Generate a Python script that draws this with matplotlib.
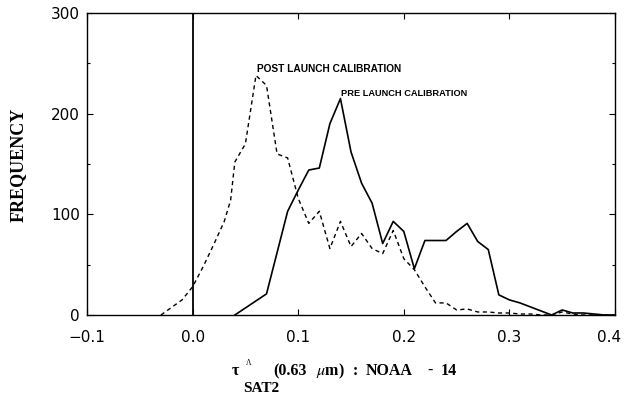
import matplotlib
matplotlib.use("Agg")
import matplotlib.pyplot as plt
import matplotlib.transforms as mtransforms
from matplotlib.ticker import MultipleLocator

# values
post_x = [-0.03, -0.01, 0.00, 0.01, 0.02, 0.03, 0.036, 0.04, 0.05, 0.06, 0.07, 0.08, 0.09,
          0.10, 0.11, 0.12, 0.13, 0.14, 0.15, 0.16, 0.17, 0.18, 0.19, 0.20, 0.21, 0.22,
          0.23, 0.24, 0.25, 0.26, 0.27, 0.28, 0.29, 0.30, 0.31, 0.32, 0.33, 0.34, 0.35,
          0.36, 0.37, 0.38, 0.39, 0.40]
post_y = [0, 15, 28, 48, 70, 93, 114, 152, 170, 238, 228, 160, 156,
          116, 91, 103, 66, 93, 68, 81, 66, 61, 84, 56, 45, 28,
          12, 12, 5, 6, 3, 3, 2, 2, 1, 1, 0, 0, 3,
          1, 0, 0, 0, 0]

pre_x = [0.04, 0.05, 0.06, 0.07, 0.08, 0.09, 0.10, 0.11, 0.12, 0.13, 0.14, 0.15, 0.16,
         0.17, 0.18, 0.19, 0.20, 0.21, 0.22, 0.23, 0.24, 0.25, 0.26, 0.27, 0.28, 0.29,
         0.30, 0.31, 0.32, 0.33, 0.34, 0.35, 0.36, 0.37, 0.38, 0.39, 0.40]
pre_y = [0, 7, 14, 21, 62, 103, 124, 144, 146, 190, 215, 162, 131,
         111, 71, 93, 83, 46, 74, 74, 74, 83, 91, 73, 65, 20,
         15, 12, 8, 4, 0, 5, 2, 2, 1, 0, 0]

x_ticks = [-0.1, 0.0, 0.1, 0.2, 0.3, 0.4]
x_tick_labels = ["\u22120.1", "0.0", "0.1", "0.2", "0.3", "0.4"]
y_ticks = [0, 100, 200, 300]

plt.rcParams['mathtext.fontset'] = 'stix'

fig = plt.figure(figsize=(6.24, 4.03), dpi=100)
ax = fig.add_axes([87 / 624, 1 - 315 / 403, 528 / 624, 302 / 403])

ax.plot(post_x, post_y, color='black', lw=1.0, linestyle=(0, (3, 2.5)))
ax.plot(pre_x, pre_y, color='black', lw=1.2)
ax.axvline(0.0, color='black', lw=1.3)

ax.set_xlim(-0.1, 0.4)
ax.set_ylim(0, 300)
ax.set_xticks(x_ticks)
ax.set_xticklabels(x_tick_labels)
ax.set_yticks(y_ticks)
ax.yaxis.set_minor_locator(MultipleLocator(50))
ax.tick_params(axis='both', which='both', direction='in', top=True, right=True,
               labelsize=11, width=0.8)
ax.tick_params(axis='both', which='major', length=4)
ax.tick_params(axis='both', which='minor', length=2.5)
ax.tick_params(axis='x', pad=11)
ax.tick_params(axis='y', pad=5)
for s in ax.spines.values():
    s.set_linewidth(1.0)

# last x label sits at the right edge, nudge it in so it is not cut
last = ax.get_xticklabels()[-1]
last.set_transform(last.get_transform() +
                   mtransforms.ScaledTranslation(-6 / 100, 0, fig.dpi_scale_trans))

ax.text(0.061, 239, "POST LAUNCH CALIBRATION", fontsize=7.3, fontweight='bold',
        family='Liberation Sans', va='bottom', ha='left')
ax.text(0.141, 216, "PRE LAUNCH CALIBRATION", fontsize=6.7, fontweight='bold',
        family='Liberation Sans', va='bottom', ha='left')

serif = 'Liberation Serif'
fig.text(18 / 624, 1 - 165 / 403, "FREQUENCY", rotation=90, fontsize=13,
         fontweight='bold', family=serif, ha='center', va='center')

yl = 1 - 371 / 403
fig.text(232 / 624, yl, "\u03c4", fontsize=11.5, fontweight='bold',
         family=serif, ha='left', va='center')
fig.text(246 / 624, 1 - 363 / 403, "\u039b", fontsize=5.5, family=serif,
         ha='left', va='center')
fig.text(273 / 624, yl, "(0.63", fontsize=11.5, fontweight='bold',
         family=serif, ha='left', va='center')
fig.text(316 / 624, yl, r"$\mu$m)", fontsize=11.5, fontweight='bold',
         family=serif, ha='left', va='center')
fig.text(355 / 624, yl, ":", fontsize=11.5, fontweight='bold',
         family=serif, ha='center', va='center')
fig.text(366 / 624, yl, "NOAA", fontsize=11.5, fontweight='bold',
         family=serif, ha='left', va='center')
fig.text(430 / 624, yl, "-", fontsize=11.5, fontweight='bold',
         family=serif, ha='center', va='center')
fig.text(441 / 624, yl, "14", fontsize=11.5, fontweight='bold',
         family=serif, ha='left', va='center')
fig.text(261 / 624, 1 - 389 / 403, "SAT2", fontsize=11, fontweight='bold',
         family=serif, ha='center', va='center')

fig.savefig("out.png", dpi=100)
